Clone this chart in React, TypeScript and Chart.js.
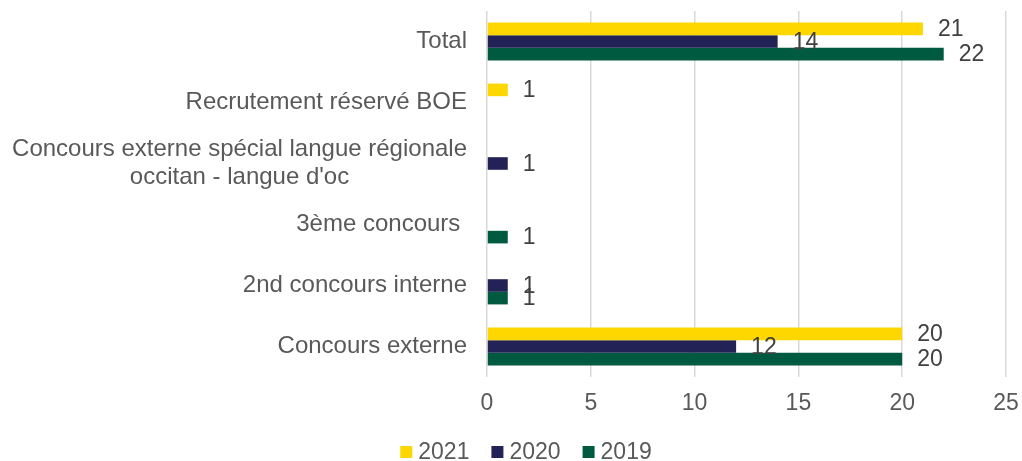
import React, { useEffect, useRef } from "react";
import { Chart, registerables } from "chart.js";

Chart.register(...registerables);

const categories: (string | string[])[] = [
  "Total",
  "Recrutement réservé BOE",
  ["Concours externe spécial langue régionale", "occitan - langue d'oc"],
  "3ème concours ",
  "2nd concours interne",
  "Concours externe",
];
const seriesNames = ["2021", "2020", "2019"];
const values2021: (number | null)[] = [21, 1, null, null, null, 20];
const values2020: (number | null)[] = [14, null, 1, null, 1, 12];
const values2019: (number | null)[] = [22, null, null, 1, 1, 20];
const colors = ["#FFD700", "#222257", "#005A40"];
const xTicks = [0, 5, 10, 15, 20, 25];

const FONT = "'Liberation Sans', Arial, sans-serif";
const FS_CAT = 24;
const FS = 23;

export default function App() {
  const ref = useRef<HTMLCanvasElement>(null);
  useEffect(() => {
    document.body.style.margin = "0";
    const ctx = ref.current!.getContext("2d")!;

    const labelsPlugin = {
      id: "customLabels",
      afterDatasetsDraw(chart: any) {
        const c = chart.ctx;
        c.save();
        c.font = `${FS}px ${FONT}`;
        c.fillStyle = "#404040";
        c.textBaseline = "middle";
        c.textAlign = "left";
        chart.data.datasets.forEach((ds: any, di: number) => {
          const meta = chart.getDatasetMeta(di);
          meta.data.forEach((el: any, i: number) => {
            const v = ds.data[i];
            if (v === null || v === undefined) return;
            c.fillText(String(v), el.x + 15, el.y + 1);
          });
        });
        // y-axis category labels
        const ys = chart.scales.y;
        c.font = `${FS_CAT}px ${FONT}`;
        c.fillStyle = "#595959";
        c.textAlign = "center";
        const rightEdge = chart.chartArea.left - 20;
        categories.forEach((cat, i) => {
          const lines = Array.isArray(cat) ? cat : [cat];
          const widths = lines.map((l) => c.measureText(l).width);
          const maxW = Math.max(...widths);
          const cx = rightEdge - maxW / 2;
          const yc = ys.getPixelForTick(i);
          const lh = 28;
          const y0 = yc - ((lines.length - 1) * lh) / 2;
          lines.forEach((l, k) => c.fillText(l, cx, y0 + k * lh));
        });
        // legend
        c.font = `${FS}px ${FONT}`;
        const boxS = 12;
        const gap = 6;
        const spacing = 22;
        const widths = seriesNames.map((n) => boxS + gap + c.measureText(n).width);
        const total = widths.reduce((a, b) => a + b, 0) + spacing * (seriesNames.length - 1);
        let x = 526 - total / 2;
        const ly = 452;
        c.textAlign = "left";
        seriesNames.forEach((n, i) => {
          c.fillStyle = colors[i];
          c.fillRect(x, ly - boxS / 2, boxS, boxS);
          c.fillStyle = "#595959";
          c.fillText(n, x + boxS + gap, ly + 1);
          x += widths[i] + spacing;
        });
        c.restore();
      },
    };

    const chart = new Chart(ctx, {
      type: "bar",
      data: {
        labels: categories as any,
        datasets: [values2021, values2020, values2019].map((d, i) => ({
          label: seriesNames[i],
          data: d,
          backgroundColor: colors[i],
          categoryPercentage: 0.62,
          barPercentage: 1.0,
        })),
      },
      options: {
        indexAxis: "y",
        animation: false,
        responsive: false,
        layout: { padding: { left: 0, right: 16, top: 11, bottom: 0 } },
        plugins: { legend: { display: false }, tooltip: { enabled: false } },
        scales: {
          x: {
            min: 0,
            max: 25,
            afterBuildTicks(scale: any) {
              scale.ticks = xTicks.map((v) => ({ value: v }));
            },
            afterFit(scale: any) {
              scale.height = 84;
              scale.paddingRight = 0;
              scale.paddingLeft = 0;
            },
            grid: { color: "#D9D9D9", lineWidth: 1.5, drawTicks: false },
            border: { display: false },
            ticks: {
              font: { family: FONT, size: FS },
              color: "#595959",
              padding: 13,
            },
          },
          y: {
            afterFit(scale: any) {
              scale.width = 487;
            },
            grid: { display: false },
            border: { display: false },
            ticks: { display: false },
          },
        },
      },
      plugins: [labelsPlugin],
    });
    return () => chart.destroy();
  }, []);
  return <canvas ref={ref} width={1022} height={461} style={{ display: "block" }} />;
}
